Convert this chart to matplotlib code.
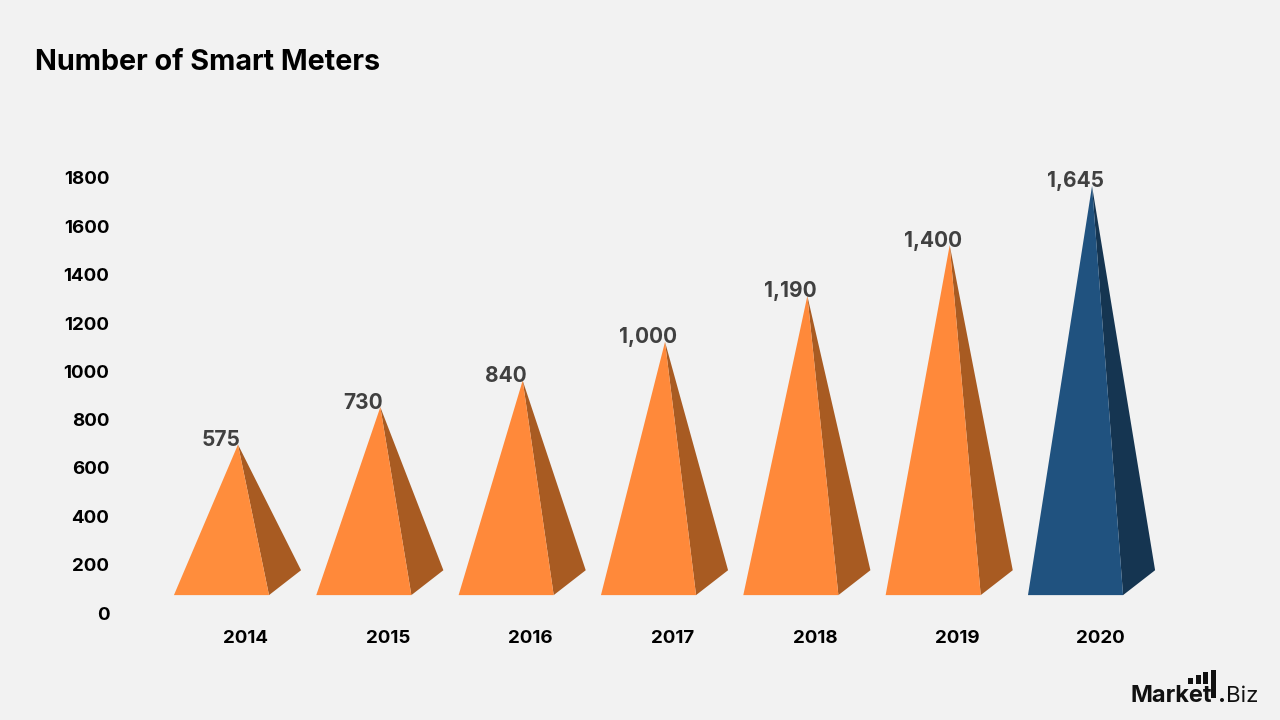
#smart_meters.py

import matplotlib.pyplot as plt
from matplotlib.patches import Polygon, Rectangle

# ------------------------------------------------------
# DATA
# ------------------------------------------------------
years = ["2014", "2015", "2016", "2017", "2018", "2019", "2020"]
meters = [575, 730, 840, 1000, 1190, 1400, 1645]
y_ticks = [0, 200, 400, 600, 800, 1000, 1200, 1400, 1600, 1800]

# ------------------------------------------------------
# STYLE
# ------------------------------------------------------
bg = "#f2f2f2"
font = "Inter"
front_colors = ["#ff8d3c", "#ff893a", "#ff893a", "#ff893a", "#ff893a", "#ff893a", "#20527f"]
side_colors = ["#a85b22", "#a85b22", "#a85b22", "#a85b22", "#a85b22", "#a85b22", "#153551"]

# pyramid shape, x in category units and y in value units
base_y = 74       # front edge of the base
back_y = 177      # back corner of the base
apex_lift = 122   # apexes sit above their value because of the fake 3D depth
left_x = -0.45
right_x = 0.218
back_x = 0.443

# ------------------------------------------------------
# PLOTTING
# ------------------------------------------------------
fig = plt.figure(figsize=(12.8, 7.2), dpi=100, facecolor=bg)
ax = fig.add_axes([115 / 1280, (720 - 613) / 720, 1065 / 1280, 435 / 720])
ax.set_facecolor("none")
ax.set_xlim(-0.864, 6.618)
ax.set_ylim(0, 1800)

for i, value in enumerate(meters):
    apex = (i, value + apex_lift)
    front = [(i + left_x, base_y), (i + right_x, base_y), apex]
    side = [(i + right_x, base_y), (i + back_x, back_y), apex]
    ax.add_patch(Polygon(side, closed=True, fc=side_colors[i], ec="none", clip_on=False))
    ax.add_patch(Polygon(front, closed=True, fc=front_colors[i], ec="none", clip_on=False))
    ax.annotate(f"{value:,}", xy=apex, xytext=(-17 * 0.72, 4.5 * 0.72),
                textcoords="offset points", ha="center", va="center",
                fontsize=15, fontweight="bold", family=font, color="#404040")

# ------------------------------------------------------
# FORMATTING
# ------------------------------------------------------
for spine in ax.spines.values():
    spine.set_visible(False)

ax.set_yticks(y_ticks)
ax.set_xticks([i + 0.056 for i in range(len(years))])
ax.set_xticklabels(years)
ax.tick_params(axis="both", length=0, labelsize=13.5, labelcolor="black")
ax.tick_params(axis="y", pad=4)
ax.tick_params(axis="x", pad=12)
for label in ax.get_xticklabels() + ax.get_yticklabels():
    label.set_fontweight("bold")
    label.set_family(font)

fig.text(35 / 1280, 1 - 62.5 / 720, "Number of Smart Meters", ha="left", va="center",
         fontsize=20.7, fontweight="bold", family=font, color="black")

# ------------------------------------------------------
# LOGO
# ------------------------------------------------------
fig.text(1130 / 1280, 1 - 702 / 720, "Market", ha="left", va="baseline",
         fontsize=17, fontweight="bold", family=font, color="#111111")
fig.text(1218 / 1280, 1 - 702 / 720, ".", ha="left", va="baseline",
         fontsize=17, fontweight="bold", family=font, color="#111111")
fig.text(1226 / 1280, 1 - 702 / 720, "Biz", ha="left", va="baseline",
         fontsize=16, family=font, color="#111111")
for x0, top, bottom in [(1188, 678, 684), (1196, 675, 684), (1203, 672, 684), (1211, 670, 698)]:
    fig.add_artist(Rectangle((x0 / 1280, 1 - bottom / 720), 4.5 / 1280, (bottom - top) / 720,
                             transform=fig.transFigure, fc="#111111", ec="none"))

plt.savefig("out.png", dpi=100, facecolor=bg)
